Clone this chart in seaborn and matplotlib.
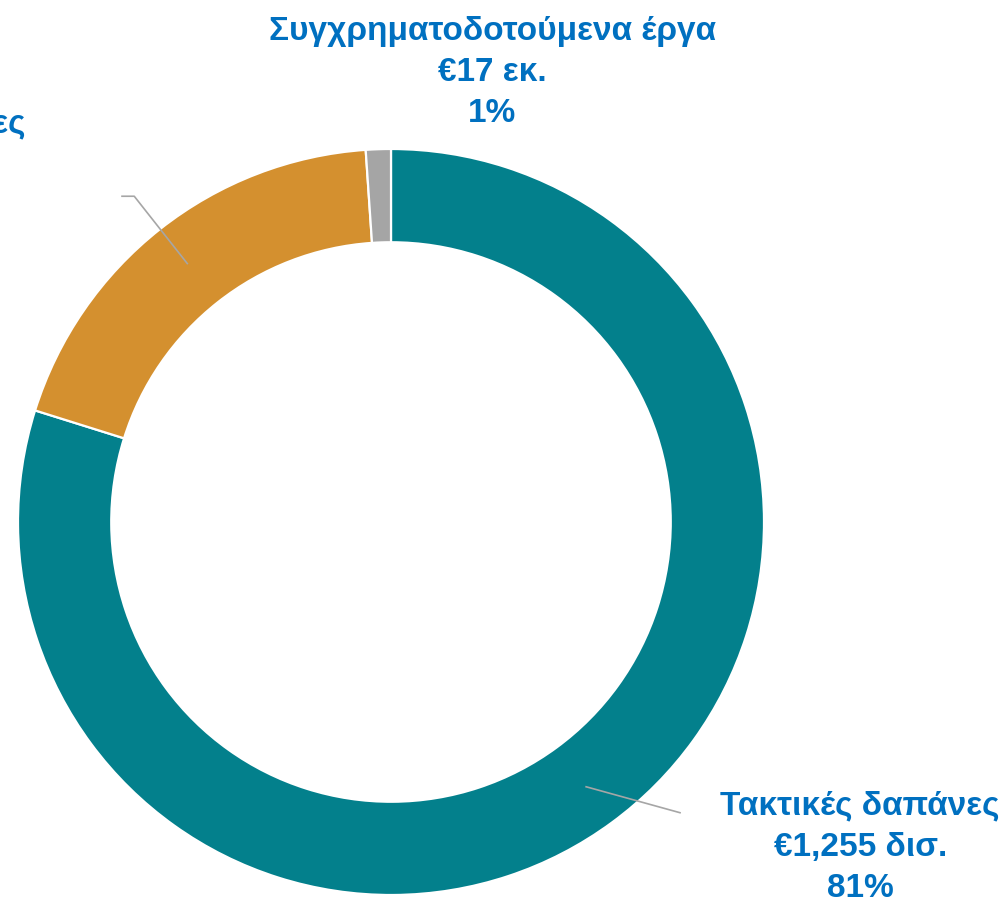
import numpy as np
import matplotlib
matplotlib.use("Agg")
import matplotlib.pyplot as plt
import seaborn as sns

# data
categories = ["Τακτικές δαπάνες", "Επενδυτικές δαπάνες", "Συγχρηματοδοτούμενα έργα"]
values = [1255, 300, 17]  # εκ. ευρώ
amount_labels = ["€1,255 δισ.", "€300 εκ.", "€17 εκ."]
pct_labels = ["81%", "19%", "1%"]
colors = ["#03808c", "#d4902f", "#a5a5a5"]

sns.set_theme(style="white")
plt.rcParams['font.family'] = ['Liberation Sans', 'DejaVu Sans']

W, H = 1004, 907
fig = plt.figure(figsize=(W / 100, H / 100), dpi=100)
ax = fig.add_axes([0, 0, 1, 1])

# pie centre / radius in pixels, used only to frame the axes
cx, cy, r = 391, 522, 373

wedges, _ = ax.pie(values, colors=colors, startangle=90, counterclock=False,
                   radius=1, wedgeprops=dict(width=0.25, edgecolor="white", linewidth=1.6))

ax.set_aspect("auto")
ax.set_xlim(-cx / r, (W - cx) / r)
ax.set_ylim(-(H - cy) / r, cy / r)
ax.axis("off")

text_kw = dict(color="#0070c0", fontsize=24, fontweight="bold",
               multialignment="center", linespacing=1.42)
labels = [f"{c}\n{a}\n{p}" for c, a, p in zip(categories, amount_labels, pct_labels)]

def mid_angle(w):
    return np.deg2rad((w.theta1 + w.theta2) / 2)

# Τακτικές δαπάνες
ax.text((1000 - cx) / r, -0.872, labels[0], ha="right", va="center", **text_kw)
a = mid_angle(wedges[0])
ax.plot([0.88 * np.cos(a), 0.777], [0.88 * np.sin(a), -0.780],
        color="#a6a6a6", lw=1.2, solid_capstyle="butt")

# Επενδυτικές δαπάνες (cut off at left edge, as in the source)
ax.text((25 - cx) / r, 0.957, labels[1], ha="right", va="center", **text_kw)
a = mid_angle(wedges[1])
ex, ey = 1.112 * np.cos(a), 1.112 * np.sin(a)
ax.plot([0.88 * np.cos(a), ex, ex - 0.035], [0.88 * np.sin(a), ey, ey],
        color="#a6a6a6", lw=1.2, solid_capstyle="butt")

# Συγχρηματοδοτούμενα έργα
ax.text(0.271, 1.205, labels[2], ha="center", va="center", **text_kw)

fig.savefig("out.png", dpi=100)
